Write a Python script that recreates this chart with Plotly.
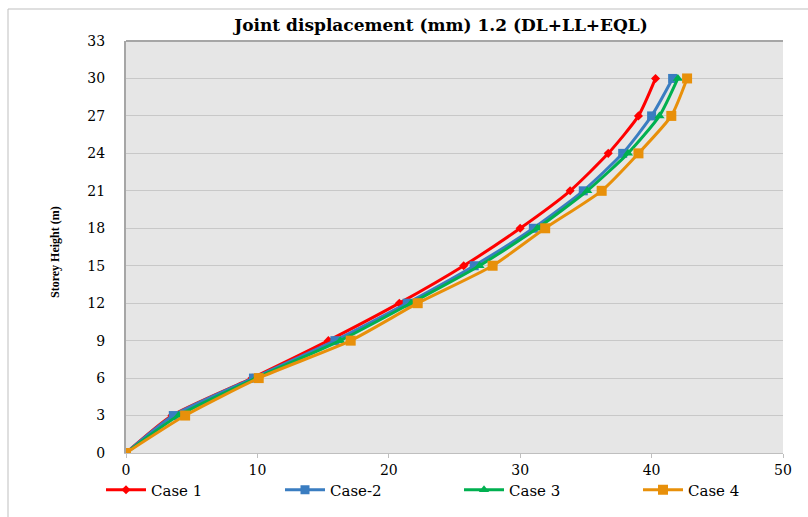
import plotly.graph_objects as go

heights = [0, 3, 6, 9, 12, 15, 18, 21, 24, 27, 30]
case1 = [0, 3.5, 9.6, 15.4, 20.8, 25.7, 30.0, 33.8, 36.7, 39.0, 40.3]
case2 = [0, 3.6, 9.7, 15.9, 21.4, 26.5, 31.0, 34.8, 37.8, 40.0, 41.6]
case3 = [0, 4.0, 9.9, 16.3, 21.7, 26.9, 31.3, 35.1, 38.2, 40.6, 42.0]
case4 = [0, 4.5, 10.1, 17.1, 22.2, 27.9, 31.9, 36.2, 39.0, 41.5, 42.7]

names = ["Case 1", "Case-2", "Case 3", "Case 4"]
colors = ["#FF0000", "#3A7DC1", "#00B050", "#E8900A"]
symbols = ["diamond", "square", "triangle-up", "square"]
msizes = [7, 9, 9, 10]

W, H = 808, 517
L, R, T, B = 126, 783, 41, 453

fig = go.Figure()
for nm, xs, c, s, ms in zip(names, [case1, case2, case3, case4], colors, symbols, msizes):
    fig.add_trace(go.Scatter(
        x=xs, y=heights, name=nm, mode="lines+markers",
        line=dict(color=c, width=3, shape="spline", smoothing=0.6),
        marker=dict(symbol=s, size=ms, color=c),
    ))

def px(x):
    return (x - L) / (R - L)

def py(y):
    return (B - y) / (B - T)

serif = "DejaVu Serif"

fig.update_layout(
    width=W, height=H,
    margin=dict(l=L, r=W - R, t=T, b=H - B, autoexpand=False),
    paper_bgcolor="white",
    plot_bgcolor="#E6E6E6",
    font=dict(family=serif, size=13, color="black"),
    title=dict(text="<b>Joint displacement (mm) 1.2 (DL+LL+EQL)</b>",
               x=441 / W, xanchor="center", y=1 - 25 / H, yanchor="middle",
               font=dict(family=serif, size=17, color="black")),
    showlegend=True,
    legend=dict(orientation="h", x=px(101), xanchor="left", y=py(490), yanchor="middle",
                entrywidth=124, entrywidthmode="pixels",
                font=dict(family=serif, size=15, color="black"),
                bgcolor="rgba(0,0,0,0)", itemwidth=40, tracegroupgap=0),
    xaxis=dict(range=[0, 50], tickvals=[0, 10, 20, 30, 40, 50], showgrid=False,
               zeroline=False, showline=True, linecolor="#BFBFBF", linewidth=1,
               ticks="outside", ticklen=4, tickcolor="#BFBFBF", automargin=False,
               tickfont=dict(family=serif, size=14, color="black")),
    yaxis=dict(range=[0, 33], tickvals=list(range(0, 34, 3)), showgrid=True,
               gridcolor="#C8C8C8", gridwidth=1, zeroline=False,
               showline=True, linecolor="#A6A6A6", linewidth=2, mirror=False,
               ticks="", automargin=False,
               tickfont=dict(family=serif, size=14, color="black"),
               ticklabelstandoff=16),
    annotations=[
        dict(text="<b>Storey Height (m)</b>", textangle=-90, xref="paper", yref="paper",
             x=px(55), y=py(252), xanchor="center", yanchor="middle", showarrow=False,
             font=dict(family="Liberation Serif", size=12, color="black")),
    ],
    shapes=[
        dict(type="line", xref="paper", yref="paper", x0=px(8), x1=px(808), y0=py(9), y1=py(9),
             line=dict(color="#BFBFBF", width=1)),
        dict(type="line", xref="paper", yref="paper", x0=px(8), x1=px(8), y0=py(517), y1=py(9),
             line=dict(color="#BFBFBF", width=1)),
        dict(type="line", xref="paper", yref="paper", x0=0, x1=1, y0=1, y1=1,
             line=dict(color="#A6A6A6", width=2)),
    ],
)

fig.write_html("out.html", config={"displayModeBar": False},
               post_script="document.body.style.margin='0';")
